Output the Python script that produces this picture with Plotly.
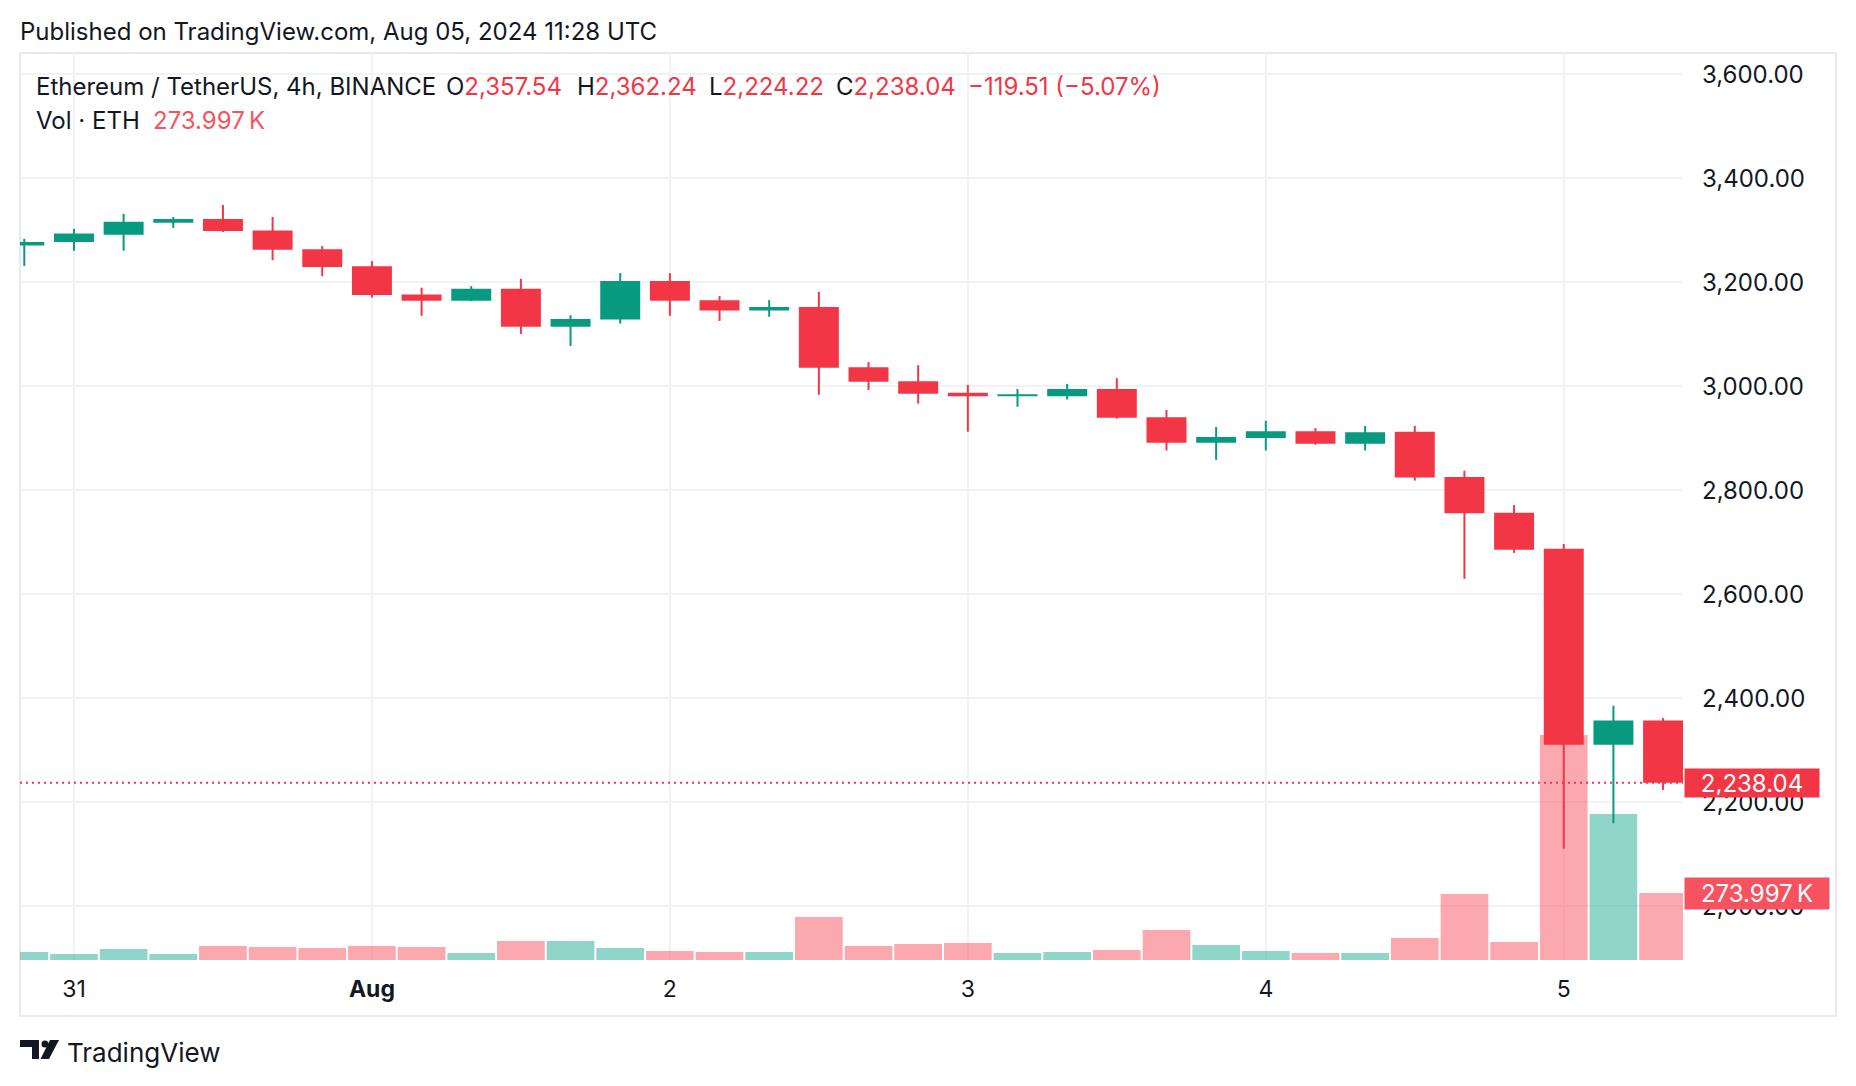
import plotly.graph_objects as go
import pandas as pd

# ---------------- data ----------------
times = [t.strftime("%Y-%m-%d %H:%M") for t in pd.date_range("2024-07-30 20:00", periods=34, freq="4h")]
opens  = [3271, 3278, 3292, 3315, 3322, 3300, 3264, 3231, 3177, 3165, 3188, 3115, 3129, 3203, 3166, 3146, 3153,
          3037, 3010, 2988, 2981, 2981, 2995, 2941, 2892, 2901, 2914, 2890, 2913, 2826, 2757, 2688, 2311, 2357.54]
highs  = [3284, 3303, 3332, 3326, 3349, 3326, 3270, 3241, 3190, 3193, 3207, 3137, 3218, 3218, 3174, 3166, 3182,
          3047, 3041, 3003, 2995, 3005, 3016, 2955, 2922, 2934, 2920, 2924, 2924, 2838, 2772, 2697, 2386, 2362.24]
lows   = [3232, 3261, 3261, 3305, 3297, 3243, 3212, 3171, 3136, 3164, 3101, 3078, 3121, 3136, 3126, 3134, 2984,
          2993, 2967, 2913, 2961, 2975, 2938, 2877, 2859, 2877, 2888, 2877, 2819, 2630, 2680, 2111, 2160, 2224.22]
closes = [3278, 3294, 3317, 3322, 3299, 3263, 3230, 3176, 3165, 3188, 3115, 3130, 3203, 3165, 3146, 3153, 3036,
          3009, 2986, 2981, 2985, 2995, 2940, 2892, 2903, 2914, 2890, 2912, 2825, 2756, 2686, 2311, 2357.55, 2238.04]
volumes_k = [33, 25, 45, 25, 57, 53, 49, 57, 53, 29, 78, 78, 49, 37, 33, 33, 176,
             57, 65, 70, 29, 33, 41, 123, 61, 37, 29, 29, 90, 270, 74, 920, 597, 273.997]

price_ticks = [2000, 2200, 2400, 2600, 2800, 3000, 3200, 3400, 3600]
day_ticks = ["2024-07-31", "2024-08-01", "2024-08-02", "2024-08-03", "2024-08-04", "2024-08-05"]
day_labels = ["31", "<b>Aug</b>", "2", "3", "4", "5"]

last_price = closes[-1]
last_vol = volumes_k[-1]

# ---------------- styling ----------------
UP, DOWN = "#089981", "#F23645"
VUP, VDOWN = "rgba(34,171,148,0.5)", "rgba(247,82,95,0.5)"
TXT = "#131722"
FONT = "Inter, Noto Sans, sans-serif"
FS = 24
GRID = "#F2F2F5"
FRAME = "#E9E9EF"

W, H = 1856, 1086
PL, PR, PT, PB = 20, 1683, 53, 960
def px(x): return (x - PL) / (PR - PL)
def py(y): return (PB - y) / (PB - PT)

H4 = 4 * 3600 * 1000
up = [c >= o for o, c in zip(opens, closes)]

fig = go.Figure()

# volume (bottom layer, on y)
fig.add_trace(go.Bar(x=times, y=volumes_k, width=0.96 * H4,
                     marker=dict(color=[VUP if u else VDOWN for u in up], line=dict(width=0)),
                     yaxis="y", hoverinfo="skip"))

# wicks
for flag, col in ((True, UP), (False, DOWN)):
    xw, yw = [], []
    for t, h, l, u in zip(times, highs, lows, up):
        if u == flag:
            xw += [t, t, None]
            yw += [l, h, None]
    fig.add_trace(go.Scatter(x=xw, y=yw, mode="lines", line=dict(color=col, width=2),
                             yaxis="y2", hoverinfo="skip"))

# bodies
fig.add_trace(go.Bar(x=times, y=[max(abs(c - o), 1.5) for o, c in zip(opens, closes)],
                     base=[min(o, c) for o, c in zip(opens, closes)], width=0.805 * H4,
                     marker=dict(color=[UP if u else DOWN for u in up], line=dict(width=0)),
                     yaxis="y2", hoverinfo="skip"))

fig.update_layout(
    width=W, height=H,
    margin=dict(l=PL, r=W - PR, t=PT, b=H - PB),
    paper_bgcolor="white", plot_bgcolor="white",
    showlegend=False, barmode="overlay",
    font=dict(family=FONT, color=TXT, size=FS),
    xaxis=dict(type="date", range=["2024-07-30 19:39:13", "2024-08-05 09:36:15"],
               tickvals=day_ticks, ticktext=day_labels, showgrid=True, gridcolor=GRID, gridwidth=2,
               zeroline=False, showline=False, ticks="", tickfont=dict(size=FS - 1, color=TXT),
               ticklabelstandoff=13),
    yaxis=dict(range=[0, 3710], visible=False, showgrid=False, zeroline=False),
    yaxis2=dict(overlaying="y", side="right", anchor="x", range=[1897.1, 3641.3],
                tickvals=price_ticks, tickformat=",.2f", showgrid=True, gridcolor=GRID, gridwidth=2,
                zeroline=False, showline=False, ticks="", tickfont=dict(size=FS, color=TXT),
                ticklabelstandoff=18),
)

shapes = []
# outer frame
shapes.append(dict(type="rect", xref="paper", yref="paper", x0=px(20), x1=px(1836), y0=py(1016), y1=py(53),
                   line=dict(color=FRAME, width=2), fillcolor="rgba(0,0,0,0)", layer="below"))
# last price line
shapes.append(dict(type="line", xref="paper", yref="y2", x0=0, x1=1, y0=last_price, y1=last_price,
                   line=dict(color=DOWN, width=2, dash="2px,4px")))
# TradingView logo glyph
logo = [
    dict(type="rect", x0=px(20), x1=px(39), y0=py(1047), y1=py(1040)),
    dict(type="rect", x0=px(32), x1=px(39), y0=py(1059), y1=py(1040)),
    dict(type="circle", x0=px(41.5), x1=px(48.5), y0=py(1047.5), y1=py(1040.5)),
    dict(type="path", path="M {} {} L {} {} L {} {} L {} {} Z".format(
        px(50), py(1040), px(59), py(1040), px(49), py(1059), px(40.5), py(1059))),
]
for s in logo:
    s.update(xref="paper", yref="paper", fillcolor=TXT, line=dict(width=0))
    shapes.append(s)
fig.update_layout(shapes=shapes)

ann = []
def text(x, y, t, size=FS, color=TXT, anchor="left"):
    ann.append(dict(xref="paper", yref="paper", x=px(x), y=py(y), text=t, showarrow=False,
                    xanchor=anchor, yanchor="middle", font=dict(size=size, color=color, family=FONT)))

text(18, 32, "Published on TradingView.com, Aug 05, 2024 11:28 UTC")
text(34, 86, "Ethereum / TetherUS, 4h, BINANCE")
def fmt(v): return f"{v:,.2f}"
chg = closes[-1] - closes[-2]
pct = chg / closes[-2] * 100
for xpos, lab, val in ((444, "O", opens[-1]), (574.5, "H", highs[-1]), (707, "L", lows[-1]), (834, "C", closes[-1])):
    text(xpos, 86, f"{lab}<span style='color:{DOWN}'>{fmt(val)}</span>")
text(966, 86, f"<span style='color:{DOWN}'>\u2212{abs(chg):.2f} (\u2212{abs(pct):.2f}%)</span>")
text(34, 120, "Vol · ETH")
text(151, 120, f"{last_vol:.3f}\u2009K", color="#F7525F")
text(65, 1052, "TradingView", size=26)

# price & volume labels on the price axis
ann.append(dict(xref="paper", yref="y2", x=px(1684), y=last_price, text=fmt(last_price), showarrow=False,
                xanchor="left", yanchor="middle", width=130, height=24, align="center", borderpad=2,
                bgcolor=DOWN, font=dict(size=FS, color="white", family=FONT)))
ann.append(dict(xref="paper", yref="y", x=px(1684), y=last_vol, text=f"{last_vol:.3f}\u2009K", showarrow=False,
                xanchor="left", yanchor="middle", width=140, height=27, align="center", borderpad=2,
                bgcolor="#F7525F", font=dict(size=FS, color="white", family=FONT)))
fig.update_layout(annotations=ann)

fig.write_html("out.html")
